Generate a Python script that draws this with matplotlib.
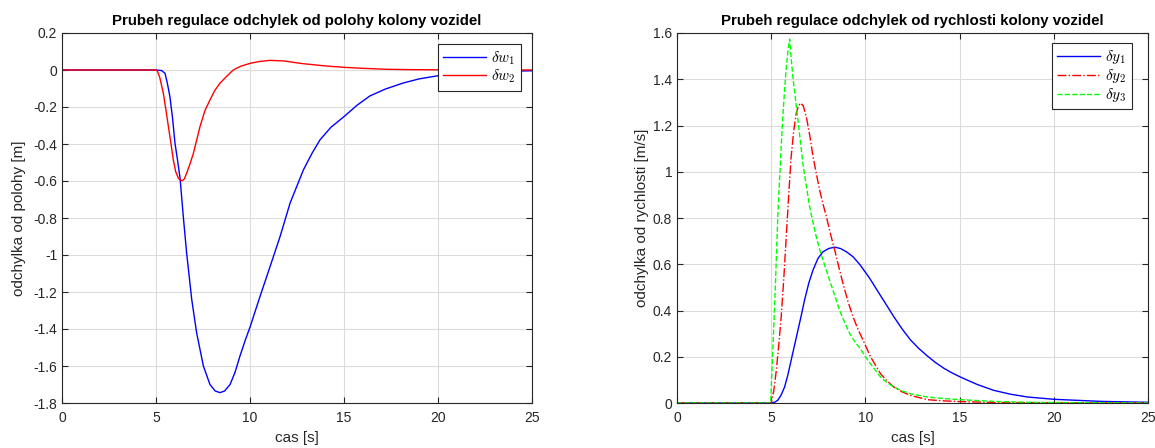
import matplotlib
matplotlib.use("Agg")
import matplotlib.pyplot as plt
from matplotlib.ticker import FuncFormatter

plt.rcParams['font.family'] = ['Liberation Sans', 'DejaVu Sans']
plt.rcParams['mathtext.fontset'] = 'cm'

# ---- data ----
t_w1 = [0, 5.0, 5.3, 5.48, 5.6, 5.74, 5.88, 6.01, 6.15, 6.28, 6.45, 6.63, 6.9, 7.16, 7.52, 7.87,
        8.15, 8.4, 8.65, 8.94, 9.2, 9.47, 9.75, 10.0, 10.53, 11.06, 11.6, 12.13, 12.84, 13.3,
        13.72, 14.3, 15.0, 15.7, 16.38, 17.2, 18.16, 19.0, 20.0, 21.0, 22.5, 25.0]
w1 = [0, 0, -0.003, -0.018, -0.07, -0.144, -0.26, -0.396, -0.49, -0.585, -0.79, -0.99, -1.24,
      -1.42, -1.6, -1.70, -1.735, -1.744, -1.735, -1.70, -1.635, -1.545, -1.46, -1.39, -1.225,
      -1.065, -0.9, -0.72, -0.54, -0.45, -0.378, -0.31, -0.252, -0.19, -0.14, -0.103, -0.07,
      -0.048, -0.031, -0.02, -0.01, -0.004]

t_w2 = [0, 5.0, 5.07, 5.2, 5.39, 5.52, 5.66, 5.8, 5.92, 6.05, 6.19, 6.3, 6.4, 6.5, 6.63, 6.8,
        6.99, 7.16, 7.34, 7.6, 7.87, 8.13, 8.4, 8.75, 9.11, 9.5, 10.0, 10.5, 11.06, 11.8, 12.4,
        12.84, 14.0, 15.0, 16.0, 17.27, 18.5, 20.0, 25.0]
w2 = [0, 0, -0.005, -0.04, -0.126, -0.21, -0.306, -0.4, -0.486, -0.55, -0.585, -0.596, -0.598,
      -0.59, -0.558, -0.51, -0.45, -0.38, -0.306, -0.22, -0.162, -0.11, -0.072, -0.035, 0.0,
      0.02, 0.036, 0.046, 0.052, 0.049, 0.04, 0.034, 0.022, 0.0144, 0.009, 0.004, 0.002, 0.001,
      0.0]

t_y1 = [0, 5.0, 5.2, 5.35, 5.53, 5.71, 5.88, 6.06, 6.24, 6.42, 6.6, 6.77, 7.0, 7.22, 7.48, 7.75,
        8.05, 8.37, 8.68, 8.99, 9.35, 9.73, 10.23, 10.62, 11.07, 11.51, 11.95, 12.39, 12.83,
        13.28, 13.72, 14.17, 14.6, 15.05, 15.94, 16.8, 17.7, 18.6, 20.0, 22.5, 25.0]
y1 = [0, 0, 0.004, 0.012, 0.035, 0.069, 0.12, 0.185, 0.25, 0.315, 0.38, 0.445, 0.52, 0.575,
      0.625, 0.654, 0.668, 0.674, 0.668, 0.654, 0.632, 0.596, 0.539, 0.488, 0.43, 0.373, 0.32,
      0.273, 0.236, 0.204, 0.175, 0.15, 0.13, 0.112, 0.08, 0.055, 0.038, 0.026, 0.016, 0.007,
      0.003]

t_y2 = [0, 5.0, 5.13, 5.27, 5.4, 5.53, 5.67, 5.8, 5.93, 6.06, 6.2, 6.33, 6.45, 6.56, 6.7, 6.86,
        7.04, 7.22, 7.4, 7.57, 7.75, 7.93, 8.15, 8.37, 8.59, 8.81, 9.07, 9.34, 9.6, 9.88, 10.27,
        10.8, 11.15, 11.51, 11.95, 12.39, 13.28, 14.2, 15.05, 17.0, 20.0, 25.0]
y2 = [0, 0, 0.05, 0.14, 0.25, 0.373, 0.54, 0.72, 0.9, 1.066, 1.18, 1.253, 1.285, 1.297, 1.285,
      1.239, 1.16, 1.066, 0.99, 0.921, 0.86, 0.806, 0.73, 0.661, 0.588, 0.517, 0.44, 0.373,
      0.32, 0.271, 0.2, 0.127, 0.095, 0.069, 0.048, 0.033, 0.0144, 0.009, 0.006, 0.002, 0.001,
      0.0]

t_y3 = [0, 4.97, 5.07, 5.18, 5.27, 5.35, 5.44, 5.53, 5.62, 5.71, 5.8, 5.9, 5.98, 6.06, 6.15,
        6.28, 6.42, 6.55, 6.68, 6.86, 7.04, 7.22, 7.39, 7.57, 7.75, 7.93, 8.1, 8.37, 8.63, 8.9,
        9.17, 9.44, 9.73, 10.0, 10.27, 10.8, 11.15, 11.51, 11.95, 12.39, 13.28, 14.2, 15.05,
        16.8, 18.6, 20.0, 25.0]
y3 = [0, 0, 0.2, 0.416, 0.62, 0.806, 0.96, 1.109, 1.24, 1.354, 1.45, 1.53, 1.574, 1.49, 1.412,
      1.32, 1.224, 1.13, 1.037, 0.94, 0.849, 0.78, 0.719, 0.665, 0.618, 0.573, 0.531, 0.465,
      0.401, 0.348, 0.3, 0.265, 0.235, 0.2, 0.17, 0.113, 0.088, 0.069, 0.052, 0.04, 0.026,
      0.019, 0.0144, 0.007, 0.003, 0.002, 0.0]

xticks = [0, 5, 10, 15, 20, 25]
yticks_left = [0.2, 0, -0.2, -0.4, -0.6, -0.8, -1.0, -1.2, -1.4, -1.6, -1.8]
yticks_right = [0, 0.2, 0.4, 0.6, 0.8, 1.0, 1.2, 1.4, 1.6]

title_left = "Prubeh regulace odchylek od polohy kolony vozidel"
title_right = "Prubeh regulace odchylek od rychlosti kolony vozidel"
xlabel = "cas [s]"
ylabel_left = "odchylka od polohy [m]"
ylabel_right = "odchylka od rychlosti [m/s]"

W, H = 1155, 448
fig = plt.figure(figsize=(W / 100, H / 100), dpi=100)
ax1 = fig.add_axes([62 / W, 1 - 403 / H, (532 - 62) / W, (403 - 33) / H])
ax2 = fig.add_axes([677 / W, 1 - 403 / H, (1148 - 677) / W, (403 - 33) / H])

axc = '#262626'

def fmt(v, pos):
    s = ('%.1f' % v).rstrip('0').rstrip('.')
    if s in ('-0', ''):
        s = '0'
    return s

def style(ax):
    ax.grid(True, color='#dcdcdc', linewidth=0.8)
    ax.set_axisbelow(True)
    ax.tick_params(direction='in', top=True, right=True, colors=axc, labelcolor=axc,
                   labelsize=10, length=4, width=0.8)
    ax.tick_params(axis='x', pad=6)
    for s in ax.spines.values():
        s.set_color(axc)
        s.set_linewidth(0.8)
    ax.yaxis.set_major_formatter(FuncFormatter(fmt))
    ax.xaxis.set_major_formatter(FuncFormatter(fmt))

def legend(ax, x_anchor, y_anchor):
    leg = ax.legend(loc='upper right', bbox_to_anchor=(x_anchor, y_anchor), fontsize=11,
                    frameon=True, fancybox=False, edgecolor=axc, framealpha=1,
                    handlelength=2.8, borderpad=0.35, labelspacing=0.05, handletextpad=0.35,
                    borderaxespad=0)
    leg.get_frame().set_linewidth(0.8)
    return leg

ax1.plot(t_w1, w1, color=(0, 0, 1), lw=1.0, label=r'$\delta w_1$')
ax1.plot(t_w2, w2, color=(1, 0, 0), lw=1.0, label=r'$\delta w_2$')
ax1.set_xlim(0, 25)
ax1.set_ylim(-1.8, 0.2)
ax1.set_xticks(xticks)
ax1.set_yticks(yticks_left)
style(ax1)
ax1.set_title(title_left, fontsize=10.8, fontweight='bold', color='black', pad=6)
ax1.set_xlabel(xlabel, fontsize=11, color=axc, labelpad=4)
ax1.set_ylabel(ylabel_left, fontsize=11, color=axc, labelpad=5)
legend(ax1, 0.977, 0.970)

ax2.plot(t_y1, y1, color=(0, 0, 1), lw=1.0, ls='-', label=r'$\delta y_1$')
ax2.plot(t_y2, y2, color=(1, 0, 0), lw=1.0, ls='-.', label=r'$\delta y_2$')
ax2.plot(t_y3, y3, color=(0, 1, 0), lw=1.0, ls='--', label=r'$\delta y_3$')
ax2.set_xlim(0, 25)
ax2.set_ylim(0, 1.6)
ax2.set_xticks(xticks)
ax2.set_yticks(yticks_right)
style(ax2)
ax2.set_title(title_right, fontsize=10.8, fontweight='bold', color='black', pad=6)
ax2.set_xlabel(xlabel, fontsize=11, color=axc, labelpad=4)
ax2.set_ylabel(ylabel_right, fontsize=11, color=axc, labelpad=3)
legend(ax2, 0.966, 0.973)

fig.savefig('out.png', dpi=100)
